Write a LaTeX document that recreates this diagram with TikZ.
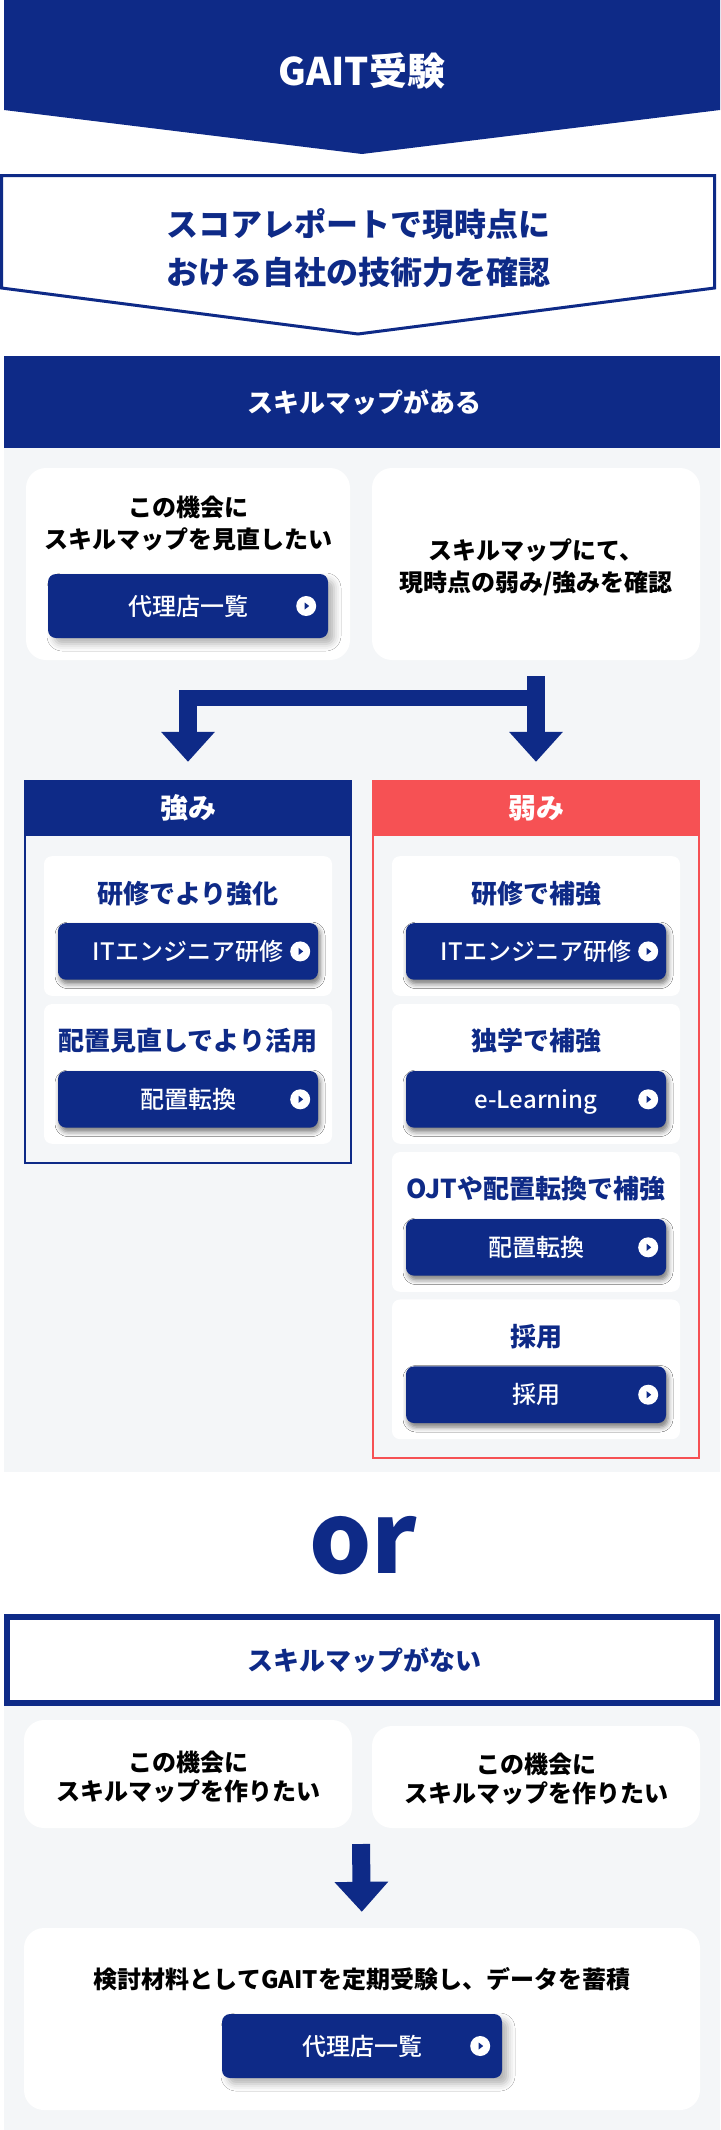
\documentclass[tikz,border=0pt]{standalone}
\usepackage{fontspec}
\setmainfont{Noto Sans CJK JP}
\newfontfamily\mediumfont{Noto Sans CJK JP Medium}
\usetikzlibrary{arrows.meta}
\usetikzlibrary{shadows.blur}
\definecolor{navy}{HTML}{0E2A87}
\definecolor{coral}{HTML}{F65154}
\definecolor{paper}{HTML}{F4F6F8}
\tikzset{
    cardbox/.style={fill=white,rounded corners=20pt,inner sep=0pt},
    subcard/.style={fill=white,rounded corners=8pt,inner sep=0pt,minimum width=288pt,minimum height=139.7pt},
    bigbtn/.style={fill=navy,text=white,rounded corners=8pt,inner sep=0pt,minimum width=280pt,minimum height=64pt,
        font=\mediumfont\fontsize{24}{24}\selectfont,text height=21pt,text depth=3pt,
        blur shadow={shadow xshift=6pt,shadow yshift=-6pt,shadow blur radius=7pt,shadow opacity=30}},
    smallbtn/.style={bigbtn,minimum width=260pt,minimum height=56.6pt,
        blur shadow={shadow xshift=2pt,shadow yshift=-4pt,shadow blur radius=5pt,shadow opacity=30}},
    playicon/.style={circle,fill=white,inner sep=0pt,minimum size=20pt,
        path picture={\fill[navy] ([xshift=-1.5pt,yshift=-3.5pt]path picture bounding box.center) -- ([xshift=3pt]path picture bounding box.center) -- ([xshift=-1.5pt,yshift=3.5pt]path picture bounding box.center) -- cycle;}},
    heading/.style={inner sep=0pt,align=center,font=\bfseries\fontsize{26}{26}\selectfont,text height=23pt,text depth=3pt},
    bodytext/.style={inner sep=0pt,align=center,font=\bfseries\fontsize{24}{32}\selectfont},
    flowarrow/.style={navy,line width=18pt,-{Triangle[length=30pt,width=52pt]}},
    flowbar/.style={navy,line width=16pt},
}
\begin{document}
\begin{tikzpicture}[x=1pt,y=-1pt]
    \useasboundingbox (0,0) rectangle (720,2130);

    %top banners
    \fill[navy] (4,0) -- (720,0) -- (720,110) -- (362,154) -- (4,110) -- cycle;
    \node[text=white,inner sep=0pt,font=\bfseries\fontsize{38}{38}\selectfont] (exam) at (362,71) {GAIT受験};
    \draw[navy,line width=3pt,fill=white,line join=miter] (1.5,175.5) -- (714.5,175.5) -- (714.5,288) -- (358,334) -- (1.5,288) -- cycle;
    \node[text=navy,inner sep=0pt,align=center,font=\bfseries\fontsize{32}{47.7}\selectfont] (report) at (358.5,248) {スコアレポートで現時点に\\おける自社の技術力を確認};

    %with skill map
    \fill[paper] (4,448) rectangle (720,1471.5);
    \fill[navy] (4,356) rectangle (720,448);
    \node[heading,text=white] (havemap) at (364,402) {スキルマップがある};

    \node[cardbox,minimum width=324pt,minimum height=192pt] (reviewcard) at (188,564) {};
    \node[bodytext] (reviewtext) at (188,523) {この機会に\\スキルマップを見直したい};
    \node[bigbtn] (agentbtn) at (188,606) {代理店一覧};
    \node[playicon] (agenticon) at ([xshift=-22pt]agentbtn.east) {};
    \node[cardbox,minimum width=328pt,minimum height=192pt] (checkcard) at (536,564) {};
    \node[bodytext] (checktext) at (536,567) {スキルマップにて、\\現時点の弱み/強みを確認};

    %strong and weak panels
    \draw[navy,line width=2pt] (25,830) rectangle (351,1162.6);
    \draw[coral,line width=2pt] (373,830) rectangle (699,1458);
    \node[fill=navy,text=white,inner sep=0pt,minimum width=328pt,minimum height=56pt,font=\bfseries\fontsize{28}{28}\selectfont] (stronghead) at (188,808) {強み};
    \node[fill=coral,text=white,inner sep=0pt,minimum width=328pt,minimum height=56pt,font=\bfseries\fontsize{28}{28}\selectfont] (weakhead) at (536,808) {弱み};

    %arrows
    \coordinate (barright) at (544,698);
    \coordinate (barleft) at (179,698);
    \coordinate (stemleft) at (188,690);
    \draw[flowbar] (barleft) -- (barright);
    \draw[flowarrow,shorten <=16pt,shorten >=18pt] (checkcard.south) -- (weakhead.north);
    \draw[flowarrow,shorten >=18pt] (stemleft) -- (stronghead.north);

    %training cards
    \foreach \card/\cx/\cy/\title/\lab/\gap in {
        traina/188/926/研修でより強化/ITエンジニア研修/20pt,
        moveb/188/1073.9/配置見直しでより活用/配置転換/0pt,
        trainc/536/926/研修で補強/ITエンジニア研修/20pt,
        selfd/536/1073.9/独学で補強/e-Learning/0pt,
        ojte/536/1221.9/OJTや配置転換で補強/配置転換/0pt,
        hiref/536/1369.3/採用/採用/0pt}{
        \node[subcard] (\card) at (\cx,\cy) {};
        \node[heading,text=navy] (\card title) at ([yshift=33pt]\card.center) {\title};
        \node[smallbtn] (\card btn) at ([yshift=-25.4pt]\card.center) {\lab\hspace{\gap}};
        \node[playicon] (\card icon) at ([xshift=-18pt]\card btn.east) {};
    }

    %or
    \node[text=navy,anchor=base,inner sep=0pt,font=\bfseries\fontsize{98}{98}\selectfont] (ortext) at (363,1573) {or};

    %without skill map
    \fill[paper] (4,1706) rectangle (720,2130);
    \draw[navy,line width=6pt,fill=white] (7,1617) rectangle (717,1703);
    \node[heading,text=navy] (nomap) at (364,1660) {スキルマップがない};

    \node[cardbox,minimum width=328pt,minimum height=108pt] (makeleft) at (188,1774) {};
    \node[cardbox,minimum width=328pt,minimum height=102pt] (makeright) at (536,1777) {};
    \node[bodytext,font=\bfseries\fontsize{24}{28.4}\selectfont] (makelefttext) at (188,1777) {この機会に\\スキルマップを作りたい};
    \node[bodytext,font=\bfseries\fontsize{24}{28.4}\selectfont] (makerighttext) at (536,1779) {この機会に\\スキルマップを作りたい};

    \node[cardbox,minimum width=676pt,minimum height=182pt] (storecard) at (362,2019) {};
    \node[inner sep=0pt,font=\bfseries\fontsize{24}{24}\selectfont] (storetext) at (362,1979) {検討材料としてGAITを定期受験し、データを蓄積};
    \node[bigbtn] (agentbtnb) at (362,2046) {代理店一覧};
    \node[playicon] (agenticonb) at ([xshift=-22pt]agentbtnb.east) {};

    \coordinate (downtop) at (361,1844);
    \draw[flowarrow,shorten >=16pt] (downtop) -- (storecard.north);
\end{tikzpicture}
\end{document}
